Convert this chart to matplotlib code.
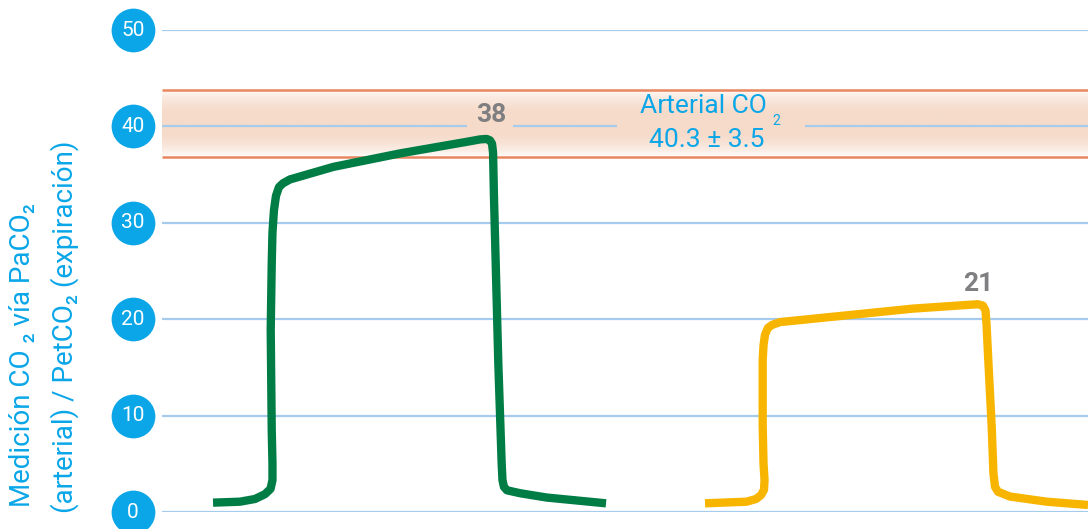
import numpy as np
import matplotlib
matplotlib.use("Agg")
import matplotlib.pyplot as plt
from matplotlib.colors import LinearSegmentedColormap
from matplotlib.transforms import blended_transform_factory

plt.rcParams['font.family'] = ['Roboto', 'DejaVu Sans']

# y scale (mmHg) and reference band
y_ticks = [0, 10, 20, 30, 40, 50]
arterial_mean = 40.3
arterial_sd = 3.5

# PaCO2 curve (green), time in arbitrary units
green_t = [0.551, 0.842, 1.004, 1.112, 1.172, 1.193, 1.193, 1.185, 1.174, 1.185,
           1.193, 1.209, 1.231, 1.263, 1.307, 1.382, 1.850, 2.570, 3.290, 3.434,
           3.506, 3.542, 3.564, 3.575, 3.585, 3.632, 3.668, 3.677, 3.693, 3.726,
           3.866, 4.154, 4.795]
green_v = [0.97, 1.07, 1.35, 1.85, 2.4, 3.3, 5.0, 8.5, 18.9, 25.8,
           29.0, 31.3, 32.8, 33.7, 34.1, 34.5, 35.8, 37.2, 38.4, 38.65,
           38.7, 38.55, 38.2, 37.3, 32.7, 15.4, 5.05, 3.3, 2.6, 2.25,
           1.95, 1.5, 0.9]
green_peak = 38

# PetCO2 curve (yellow)
yellow_t = [5.864, 6.314, 6.415, 6.469, 6.501, 6.507, 6.496, 6.487, 6.487, 6.496,
            6.512, 6.544, 6.587, 6.674, 7.394, 8.113, 8.726, 8.812, 8.866, 8.893,
            8.904, 8.923, 8.960, 8.979, 8.996, 9.028, 9.158, 9.554, 10.0]
yellow_v = [0.9, 1.07, 1.35, 1.75, 2.3, 3.3, 5.0, 8.85, 15.8, 17.3,
            18.4, 19.1, 19.4, 19.7, 20.4, 21.1, 21.5, 21.55, 21.4, 20.9,
            19.5, 15.8, 8.85, 4.0, 2.6, 2.1, 1.6, 1.07, 0.73]
yellow_peak = 21

blue = '#0aa6e8'
grid_c = '#a5cbed'
band_line = '#e8875f'
green = '#007c45'
yellow = '#f8b500'
grey = '#7f7f81'

fig = plt.figure(figsize=(10.88, 5.29), dpi=100)
ax = fig.add_axes([162 / 1088, 17 / 529, 1 - 162 / 1088, 482 / 529])
ax.set_xlim(0, 10)
ax.set_ylim(0, 50)
ax.axis('off')

lo = arterial_mean - arterial_sd
hi = arterial_mean + arterial_sd

# band with soft vertical gradient
s = np.linspace(0, 1, 200)
alpha = np.clip(np.sin(np.pi * s) ** 0.7 * 1.1, 0, 1)
cmap = LinearSegmentedColormap.from_list('band', ['#ffffff', '#f6dbca'])
ax.imshow(alpha[:, None], extent=[0, 10, lo, hi], aspect='auto', cmap=cmap,
          vmin=0, vmax=1, origin='lower', zorder=0, interpolation='bilinear')

# gridlines, the 40 line is broken around the labels
for v in y_ticks:
    if v == 40:
        for a, b in [(0, 3.29), (3.794, 4.91), (6.944, 10)]:
            ax.hlines(v, a, b, color=grid_c, lw=1.6, zorder=1)
    else:
        ax.hlines(v, 0, 10, color=grid_c, lw=1.6, zorder=1)

ax.hlines([lo, hi], 0, 10, color=band_line, lw=1.8, zorder=2)

ax.plot(green_t, green_v, color=green, lw=6, solid_joinstyle='round',
        solid_capstyle='butt', zorder=3)
ax.plot(yellow_t, yellow_v, color=yellow, lw=6, solid_joinstyle='round',
        solid_capstyle='butt', zorder=3)

ax.text(3.56, 41.2, str(green_peak), color=grey, fontsize=19, fontweight='bold',
        ha='center', va='center', zorder=4)
ax.text(8.815, 23.7, str(yellow_peak), color=grey, fontsize=19, fontweight='bold',
        ha='center', va='center', zorder=4)

ax.text(5.842, 42.1, 'Arterial CO', color=blue, fontsize=19,
        ha='center', va='center', zorder=4)
ax.text(6.638, 40.55, '2', color=blue, fontsize=10,
        ha='center', va='center', zorder=4)
ax.text(5.882, 38.6, f'{arterial_mean} ± {arterial_sd}', color=blue, fontsize=19,
        ha='center', va='center', zorder=4)

# round tick badges left of the plot
tr = blended_transform_factory(ax.transAxes, ax.transData)
bx = (133 - 162) / 926
ax.plot([bx] * len(y_ticks), y_ticks, 'o', ms=31.5, color=blue, mec='none',
        transform=tr, clip_on=False, zorder=5)
for v in y_ticks:
    ax.text(bx, v, str(v), transform=tr, color='white', fontsize=15,
            ha='center', va='center', clip_on=False, zorder=6)

fig.text(23 / 1088, 0.329, 'Medición CO ₂ vía PaCO₂', rotation=90, color=blue,
         fontsize=20, ha='center', va='center')
fig.text(65 / 1088, 0.383, '(arterial) / PetCO₂ (expiración)', rotation=90,
         color=blue, fontsize=20, ha='center', va='center')

fig.savefig('out.png', dpi=100)
